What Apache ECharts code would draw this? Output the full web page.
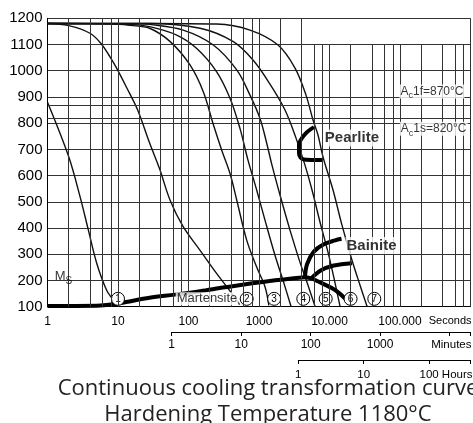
<!DOCTYPE html>
<html><head><meta charset="utf-8">
<script src="https://cdn.jsdelivr.net/npm/echarts@6/dist/echarts.min.js"></script>
<style>html,body{margin:0;padding:0;background:#fff;overflow:hidden}#c{width:473px;height:423px}</style>
</head><body><div id="c"></div>
<script>
const NARROW = "'Liberation Sans Narrow','Arial Narrow','Liberation Sans',Arial,sans-serif";

// ---- axis tick labels ----
const secTickValues = [1, 10, 100, 1000, 10000, 100000];
const secTickLabels = ['1', '10', '100', '1000', '10.000', '100.000'];
const minTickValues = [1, 10, 100, 1000];
const minTickLabels = ['1', '10', '100', '1000'];
const hourTickValues = [1, 10, 100];
const hourTickLabels = ['1', '10', '100'];

// ---- cooling curves [seconds, °C] ----
const curve1 = [[1,880],[2,672],[2.9,519],[3.8,392],[5,265],[6.9,163],[8.6,125],[9.6,106]];
const curve2 = [[1,1180],[2,1172],[4,1143],[5.7,1105],[7.7,1053],[9.6,1009],[13.3,935],[19,850],[28,725],[39,625],[55,505],[84,405],[145,316],[250,227],[366,169],[530,108]];
const curve3 = [[1,1180],[8,1179],[15,1173],[28,1162],[55,1111],[105,1022],[162,920],[225,795],[296,697],[388,608],[483,507],[669,354],[924,252],[1216,176],[1380,105]];
const curve4 = [[1,1180],[15,1177],[28,1168],[68,1136],[131,1085],[251,996],[388,895],[537,780],[698,659],[927,545],[1216,430],[1686,296],[2190,201],[2840,102]];
const curve5 = [[1,1180],[20,1179],[28,1177],[84,1155],[225,1098],[483,1003],[745,907],[1033,818],[1256,735],[1528,640],[1986,526],[2752,392],[3817,269],[4955,182],[6225,102]];
const curve6 = [[1,1180],[28,1180],[146,1162],[432,1111],[822,1041],[1432,949],[2338,850],[3350,743],[4490,640],[5650,545],[7330,423],[9520,308],[11580,209],[14090,102]];
const curve7 = [[1,1180],[28,1180],[251,1178],[745,1155],[1862,1098],[3243,1010],[4642,907],[5836,812],[6870,755],[8090,671],[11220,545],[15030,411],[20850,277],[27100,182],[34040,102]];

// ---- transformation lines [seconds, °C] ----
const martensite = [[1,103],[5,104],[8,108],[13,118],[28,134],[64,146],[146,159],[330,174],[1343,197],[4490,212]];
const bainiteStart = [[4490,212],[4800,262],[6000,310],[8300,338],[12000,353],[14800,359]];
const bainiteMid = [[5500,208],[7500,238],[11500,257],[20800,266]];
const bainiteEnd = [[4490,212],[5500,208],[6950,196],[10770,171],[14000,150],[16600,131]];
const pearlite = [[6026,785],[4490,758],[3690,716],[3690,688],[4074,664],[5650,660],[8090,660]];

// ---- numbered curve markers ----
const circleSec = [10, 669, 1640, 4250, 8830, 19900, 43200];
const circleTemp = [130, 130, 130, 130, 130, 130, 130];
const circleNum = ['1', '2', '3', '4', '5', '6', '7'];

// ---- reference temperatures ----
const acTemps = [870, 820];

// ---- grid lines (seconds) ----
const gridSecFull = [2,4,6,8,10,20,40,60,80,100,200,400,600,800,1000,2000,4000,1000000];
const gridSecShort = [6000,8000,10000,20000,40000,60000,80000,100000,200000,400000,600000,800000];

// ---- annotations ----
const annotText = ['Martensite', 'Pearlite', 'Bainite', '{m|M}{s|S}', '{a|A}{b|c}{a|1f=870°C}', '{a|A}{b|c}{a|1s=820°C}'];
const annotSec = [183, 8170, 16600, 1.68, 835000, 922000];
const annotTemp = [130, 743, 333, 214, 921, 779];

function tickFormatter(values, labels) {
  return function (v) {
    const lv = Math.log10(v);
    for (let i = 0; i < values.length; i++) {
      if (Math.abs(Math.log10(values[i]) - lv) < 1e-6) return labels[i];
    }
    return '';
  };
}

const chart = echarts.init(document.getElementById('c'), null, {renderer: 'canvas'});

const gridLineData = [];
gridSecFull.forEach(x => gridLineData.push([{coord: [x, 100]}, {coord: [x, 1200]}]));
gridSecShort.forEach(x => gridLineData.push([{coord: [x, 100]}, {coord: [x, 1100]}]));
acTemps.forEach(t => gridLineData.push([{coord: [1, t]}, {coord: [1000000, t]}]));

const curveSeries = [curve1, curve2, curve3, curve4, curve5, curve6, curve7].map((d, i) => ({
  type: 'line', name: 'c' + (i + 1), data: d, smooth: 0.35, showSymbol: false, silent: true,
  lineStyle: {color: '#111', width: 1.4}, z: 2
}));
const thickSeries = [martensite, bainiteStart, bainiteMid, bainiteEnd, pearlite].map(d => ({
  type: 'line', data: d, smooth: 0.35, showSymbol: false, silent: true,
  lineStyle: {color: '#000', width: 4, join: 'round'}, z: 3
}));

const richAc = {
  a: {fontSize: 12, fontFamily: NARROW, lineHeight: 14, color: '#000'},
  b: {fontSize: 9, fontFamily: NARROW, lineHeight: 9, padding: [9, 0, 0, 0], color: '#000'}
};
const annotStyles = [
  {position: 'inside', fontSize: 13, fontFamily: NARROW, lineHeight: 13, color: '#000', backgroundColor: '#fff', padding: [0, 1]},
  {position: 'right', distance: 0, fontSize: 15, fontWeight: 'bold', fontFamily: NARROW, color: '#000', backgroundColor: '#fff', padding: [1, 1]},
  {position: 'right', distance: 0, fontSize: 15, fontWeight: 'bold', fontFamily: NARROW, color: '#000', backgroundColor: '#fff', padding: [1, 1]},
  {position: 'inside', rich: {
      m: {fontSize: 13, fontFamily: NARROW, lineHeight: 16, color: '#000'},
      s: {fontSize: 10, fontFamily: NARROW, lineHeight: 10, padding: [8, 0, 0, 0], color: '#000'}}},
  {position: 'left', distance: 0, backgroundColor: '#fff', padding: [0, 1], rich: richAc},
  {position: 'left', distance: 0, backgroundColor: '#fff', padding: [0, 1], rich: richAc}
];

const option = {
  animation: false,
  grid: [
    {left: 47.5, right: 2.5, top: 18.3, bottom: 116.3, outerBoundsMode: 'none'},
    {left: 171.7, right: 2.5, top: 300, bottom: 91, outerBoundsMode: 'none'},
    {left: 298.3, right: 2.5, top: 330, bottom: 63, outerBoundsMode: 'none'}
  ],
  xAxis: [
    {gridIndex: 0, type: 'log', logBase: 10, min: 1, max: 1000000,
     axisLine: {show: true, onZero: false, lineStyle: {color: '#000', width: 1}},
     axisTick: {show: false}, splitLine: {show: false}, minorTick: {show: false},
     axisLabel: {formatter: tickFormatter(secTickValues, secTickLabels), fontSize: 12, fontFamily: NARROW, color: '#000', margin: 9},
     name: 'Seconds', nameLocation: 'end', nameGap: 1, nameMoveOverlap: false,
     nameTextStyle: {align: 'right', verticalAlign: 'top', padding: [9, 0, 0, 0], fontSize: 11, fontFamily: NARROW, color: '#000'}},
    {gridIndex: 1, type: 'log', logBase: 10, min: 1, max: 20000,
     axisLine: {show: true, onZero: false, lineStyle: {color: '#000', width: 1}},
     axisTick: {show: true, length: 4, lineStyle: {color: '#000'}}, splitLine: {show: false},
     axisLabel: {formatter: tickFormatter(minTickValues, minTickLabels), fontSize: 12, fontFamily: NARROW, color: '#000', margin: 7},
     name: 'Minutes', nameLocation: 'end', nameGap: 1, nameMoveOverlap: false,
     nameTextStyle: {align: 'right', verticalAlign: 'top', padding: [7, 0, 0, 0], fontSize: 11.5, fontFamily: NARROW, color: '#000'}},
    {gridIndex: 2, type: 'log', logBase: 10, min: 1, max: 430,
     axisLine: {show: true, onZero: false, lineStyle: {color: '#000', width: 1}},
     axisTick: {show: true, length: 4, lineStyle: {color: '#000'}}, splitLine: {show: false},
     axisLabel: {formatter: tickFormatter(hourTickValues, hourTickLabels), fontSize: 11.5, fontFamily: NARROW, color: '#000', margin: 9},
     name: 'Hours', nameLocation: 'end', nameGap: 2, nameMoveOverlap: false,
     nameTextStyle: {align: 'right', verticalAlign: 'top', padding: [9, 0, 0, 0], fontSize: 11.5, fontFamily: NARROW, color: '#000'}}
  ],
  yAxis: [
    {gridIndex: 0, type: 'value', min: 100, max: 1200, interval: 100,
     axisLine: {show: true, lineStyle: {color: '#000', width: 1}}, axisTick: {show: false},
     splitLine: {show: true, lineStyle: {color: '#333', width: 1}},
     axisLabel: {formatter: v => String(v), fontSize: 15, fontFamily: NARROW, color: '#000', margin: 5}},
    {gridIndex: 1, type: 'value', min: 0, max: 1, show: false},
    {gridIndex: 2, type: 'value', min: 0, max: 1, show: false}
  ],
  graphic: [{
    type: 'text', x: 268, y: 376, silent: true,
    style: {text: 'Continuous cooling transformation curve\nHardening Temperature 1180°C',
      fontSize: 22, fontFamily: "'Open Sans', 'Noto Sans', sans-serif", fill: '#222',
      align: 'center', textAlign: 'center', verticalAlign: 'top', textVerticalAlign: 'top', lineHeight: 26}
  }],
  series: [
    {type: 'line', data: [], silent: true, z: 1,
     markLine: {symbol: ['none', 'none'], silent: true, animation: false, label: {show: false},
       lineStyle: {color: '#333', width: 1, type: 'solid'}, emphasis: {disabled: true}, data: gridLineData}},
    ...curveSeries,
    ...thickSeries,
    {type: 'scatter', silent: true, z: 4, symbol: 'circle', symbolSize: 13,
     itemStyle: {color: '#fff', borderColor: '#000', borderWidth: 1, opacity: 1},
     label: {show: true, position: 'inside', fontSize: 10, fontFamily: NARROW, color: '#000'},
     data: circleSec.map((s, i) => ({value: [s, circleTemp[i]], name: circleNum[i], label: {formatter: circleNum[i]}}))},
    {type: 'scatter', silent: true, z: 5, symbol: 'circle', symbolSize: 1,
     itemStyle: {color: 'rgba(0,0,0,0)'},
     data: annotText.map((t, i) => ({value: [annotSec[i], annotTemp[i]],
       label: Object.assign({show: true, formatter: t}, annotStyles[i])}))}
  ]
};
chart.setOption(option);
</script>
</body></html>
